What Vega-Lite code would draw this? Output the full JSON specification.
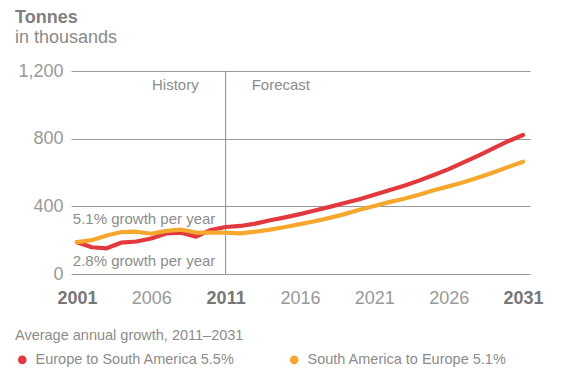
{
  "$schema": "https://vega.github.io/schema/vega-lite/v6.json",
  "width": 459,
  "height": 203,
  "autosize": {"type": "none"},
  "padding": {"left": 71, "top": 71, "right": 35, "bottom": 94},
  "background": "white",
  "config": {
    "view": {"stroke": null},
    "font": "Liberation Sans",
    "axis": {"domain": false, "ticks": false, "labelFont": "Liberation Sans", "titleFont": "Liberation Sans"}
  },
  "title": {
    "text": "Tonnes",
    "subtitle": "in thousands",
    "anchor": "start",
    "frame": "group",
    "dx": -56,
    "offset": 15,
    "font": "Liberation Sans",
    "fontSize": 18,
    "fontWeight": "bold",
    "color": "#808080",
    "subtitleFont": "Liberation Sans",
    "subtitleFontSize": 18,
    "subtitleColor": "#8a8a8a",
    "subtitlePadding": 2
  },
  "datasets": {
    "trade": [
      {"year": 2001, "route": "Europe to South America", "tonnes": 188},
      {"year": 2002, "route": "Europe to South America", "tonnes": 158},
      {"year": 2003, "route": "Europe to South America", "tonnes": 152},
      {"year": 2004, "route": "Europe to South America", "tonnes": 186},
      {"year": 2005, "route": "Europe to South America", "tonnes": 192},
      {"year": 2006, "route": "Europe to South America", "tonnes": 210},
      {"year": 2007, "route": "Europe to South America", "tonnes": 240},
      {"year": 2008, "route": "Europe to South America", "tonnes": 244},
      {"year": 2009, "route": "Europe to South America", "tonnes": 221},
      {"year": 2010, "route": "Europe to South America", "tonnes": 260},
      {"year": 2011, "route": "Europe to South America", "tonnes": 278},
      {"year": 2012, "route": "Europe to South America", "tonnes": 284},
      {"year": 2013, "route": "Europe to South America", "tonnes": 298},
      {"year": 2014, "route": "Europe to South America", "tonnes": 318},
      {"year": 2015, "route": "Europe to South America", "tonnes": 335},
      {"year": 2016, "route": "Europe to South America", "tonnes": 354},
      {"year": 2017, "route": "Europe to South America", "tonnes": 375},
      {"year": 2018, "route": "Europe to South America", "tonnes": 397},
      {"year": 2019, "route": "Europe to South America", "tonnes": 420},
      {"year": 2020, "route": "Europe to South America", "tonnes": 442},
      {"year": 2021, "route": "Europe to South America", "tonnes": 468},
      {"year": 2022, "route": "Europe to South America", "tonnes": 495},
      {"year": 2023, "route": "Europe to South America", "tonnes": 522},
      {"year": 2024, "route": "Europe to South America", "tonnes": 552},
      {"year": 2025, "route": "Europe to South America", "tonnes": 585},
      {"year": 2026, "route": "Europe to South America", "tonnes": 620},
      {"year": 2027, "route": "Europe to South America", "tonnes": 660},
      {"year": 2028, "route": "Europe to South America", "tonnes": 700},
      {"year": 2029, "route": "Europe to South America", "tonnes": 742},
      {"year": 2030, "route": "Europe to South America", "tonnes": 785},
      {"year": 2031, "route": "Europe to South America", "tonnes": 822},
      {"year": 2001, "route": "South America to Europe", "tonnes": 188},
      {"year": 2002, "route": "South America to Europe", "tonnes": 200},
      {"year": 2003, "route": "South America to Europe", "tonnes": 228},
      {"year": 2004, "route": "South America to Europe", "tonnes": 248},
      {"year": 2005, "route": "South America to Europe", "tonnes": 250},
      {"year": 2006, "route": "South America to Europe", "tonnes": 238},
      {"year": 2007, "route": "South America to Europe", "tonnes": 255},
      {"year": 2008, "route": "South America to Europe", "tonnes": 262},
      {"year": 2009, "route": "South America to Europe", "tonnes": 245},
      {"year": 2010, "route": "South America to Europe", "tonnes": 245},
      {"year": 2011, "route": "South America to Europe", "tonnes": 245},
      {"year": 2012, "route": "South America to Europe", "tonnes": 240},
      {"year": 2013, "route": "South America to Europe", "tonnes": 250},
      {"year": 2014, "route": "South America to Europe", "tonnes": 262},
      {"year": 2015, "route": "South America to Europe", "tonnes": 278},
      {"year": 2016, "route": "South America to Europe", "tonnes": 295},
      {"year": 2017, "route": "South America to Europe", "tonnes": 312},
      {"year": 2018, "route": "South America to Europe", "tonnes": 332},
      {"year": 2019, "route": "South America to Europe", "tonnes": 354},
      {"year": 2020, "route": "South America to Europe", "tonnes": 380},
      {"year": 2021, "route": "South America to Europe", "tonnes": 402},
      {"year": 2022, "route": "South America to Europe", "tonnes": 425},
      {"year": 2023, "route": "South America to Europe", "tonnes": 445},
      {"year": 2024, "route": "South America to Europe", "tonnes": 468},
      {"year": 2025, "route": "South America to Europe", "tonnes": 495},
      {"year": 2026, "route": "South America to Europe", "tonnes": 518},
      {"year": 2027, "route": "South America to Europe", "tonnes": 542},
      {"year": 2028, "route": "South America to Europe", "tonnes": 570},
      {"year": 2029, "route": "South America to Europe", "tonnes": 600},
      {"year": 2030, "route": "South America to Europe", "tonnes": 632},
      {"year": 2031, "route": "South America to Europe", "tonnes": 664}
    ],
    "notes": [
      {"label": "History", "year": 2006.05, "tonnes": 1118},
      {"label": "Forecast", "year": 2012.75, "tonnes": 1118},
      {"label": "5.1% growth per year", "year": 2000.72, "tonnes": 328},
      {"label": "2.8% growth per year", "year": 2000.72, "tonnes": 76}
    ],
    "divider": [
      {"year": 2011, "low": 0, "high": 1200}
    ]
  },
  "layer": [
    {
      "data": {"name": "divider"},
      "mark": {"type": "rule", "color": "#8c8c8c", "strokeWidth": 1},
      "encoding": {
        "x": {"field": "year", "type": "quantitative", "scale": {"domain": [2000.6, 2031.47], "nice": false, "zero": false}},
        "y": {"field": "low", "type": "quantitative"},
        "y2": {"field": "high"}
      }
    },
    {
      "data": {"name": "trade"},
      "mark": {"type": "line", "strokeWidth": 4.2, "strokeCap": "round", "strokeJoin": "round"},
      "encoding": {
        "x": {
          "field": "year",
          "type": "quantitative",
          "scale": {"domain": [2000.6, 2031.47], "nice": false, "zero": false},
          "axis": {
            "title": null,
            "grid": false,
            "values": [2001, 2006, 2011, 2016, 2021, 2026, 2031],
            "format": "d",
            "labelFontSize": 18,
            "labelPadding": 15,
            "labelColor": {"condition": {"test": "datum.value == 2001 || datum.value == 2011 || datum.value == 2031", "value": "#777777"}, "value": "#999999"},
            "labelFontWeight": {"condition": {"test": "datum.value == 2001 || datum.value == 2011 || datum.value == 2031", "value": "bold"}, "value": "normal"}
          }
        },
        "y": {
          "field": "tonnes",
          "type": "quantitative",
          "scale": {"domain": [0, 1200], "nice": false},
          "axis": {
            "title": null,
            "values": [0, 400, 800, 1200],
            "format": ",d",
            "grid": true,
            "gridColor": "#9a9a9a",
            "gridWidth": 1,
            "labelFontSize": 18,
            "labelColor": "#999999",
            "labelPadding": 8
          }
        },
        "color": {
          "field": "route",
          "type": "nominal",
          "scale": {"domain": ["Europe to South America", "South America to Europe"], "range": ["#e2393f", "#f6a82e"]},
          "legend": {
            "title": "Average annual growth, 2011–2031",
            "orient": "none",
            "direction": "horizontal",
            "legendX": -56,
            "legendY": 258,
            "titleFont": "Liberation Sans",
            "titleFontSize": 14.5,
            "titleFontWeight": "normal",
            "titleColor": "#8c8c8c",
            "titleLimit": 500,
            "titlePadding": 9,
            "labelFont": "Liberation Sans",
            "labelFontSize": 14.5,
            "labelColor": "#8c8c8c",
            "labelOffset": 6,
            "labelLimit": 400,
            "labelExpr": "datum.label == 'Europe to South America' ? datum.label + ' 5.5%' : datum.label + ' 5.1%'",
            "symbolType": "circle",
            "symbolSize": 75,
            "symbolStrokeWidth": 0,
            "columnPadding": 52,
            "encode": {
              "symbols": {"update": {"fill": {"scale": "color", "field": "value"}, "opacity": {"value": 1}}}
            }
          }
        }
      }
    },
    {
      "data": {"name": "notes"},
      "mark": {"type": "text", "align": "left", "baseline": "middle", "fontSize": 15, "color": "#8c8c8c", "font": "Liberation Sans"},
      "encoding": {
        "x": {"field": "year", "type": "quantitative"},
        "y": {"field": "tonnes", "type": "quantitative"},
        "text": {"field": "label"}
      }
    }
  ]
}
